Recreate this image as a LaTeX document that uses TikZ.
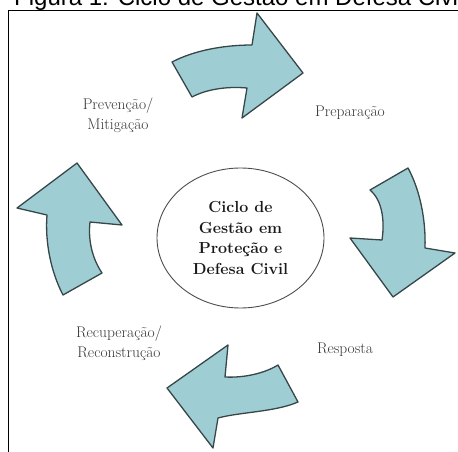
\documentclass[tikz,border=0pt]{standalone}
\usepackage{fontspec}
\newfontfamily\titlefont{Liberation Sans}
\usetikzlibrary{positioning}
\definecolor{arrowfill}{RGB}{158,205,212}
\definecolor{arrowline}{RGB}{55,70,72}
\definecolor{labelgray}{RGB}{55,55,55}
\tikzstyle{cyclearrow}=[draw=arrowline,fill=arrowfill,line width=1.3pt,line join=round]
\tikzstyle{phase}=[align=center,text=labelgray,font=\fontsize{15.5}{20}\selectfont]
\tikzstyle{hub}=[ellipse,draw=black!70,line width=0.9pt,minimum width=167pt,minimum height=140pt,inner sep=0pt]
\usetikzlibrary{shapes.geometric}

\begin{document}
\begin{tikzpicture}[x=1pt,y=-1pt]
    \useasboundingbox (0,0) rectangle (458,452);
    \clip (0,0) rectangle (458,452);

    % caption cut at the top and frame
    \node[anchor=base west,inner sep=0pt,font=\titlefont\fontsize{24}{24}\selectfont] (caption) at (14,6) {Figura 1: Ciclo de Gestão em Defesa Civil};
    \draw[line width=1.8pt] (8.5,452) -- (8.5,10.5) -- (458,10.5);

    % centre
    \node[hub] (centre) at (240.5,238) {};
    \node[align=center,font=\bfseries\fontsize{16}{20.5}\selectfont,text=black!90] (centretext) at (centre) {Ciclo de\\Gestão em\\Proteção e\\Defesa Civil};

    % the four arrows
    \path[cyclearrow] (172,62) .. controls (195,50) and (225,45) .. (252,45)
        -- (257,13) -- (303,73) -- (242,118) -- (247,88)
        .. controls (225,86) and (205,90) .. (192,97) -- cycle;
    \path[cyclearrow] (370,190) -- (408,168)
        .. controls (420,190) and (426,220) .. (425,248)
        -- (455,253) -- (393,297) -- (350,238) -- (382,240)
        .. controls (385,220) and (382,200) .. cycle;
    \path[cyclearrow] (228,345) -- (225,377)
        .. controls (245,378) and (265,373) .. (278,365)
        -- (298,402) .. controls (275,412) and (240,412) .. (218,418)
        -- (213,448) -- (167,388) -- cycle;
    \path[cyclearrow] (77,163) -- (122,225) -- (90,222)
        .. controls (88,240) and (92,258) .. (102,273)
        -- (63,295) .. controls (50,270) and (45,240) .. (47,215)
        -- (17,208) -- cycle;

    % phase labels
    \foreach \pos/\name/\txt in {{(118,115)/prev/{Prevenção/\\Mitigação}}, {(350,113)/prep/{Preparação}}, {(345,350)/resp/{Resposta}}, {(119,343)/recu/{Recuperação/\\Reconstrução}}}
        \node[phase] (\name) at \pos {\txt};
\end{tikzpicture}
\end{document}
